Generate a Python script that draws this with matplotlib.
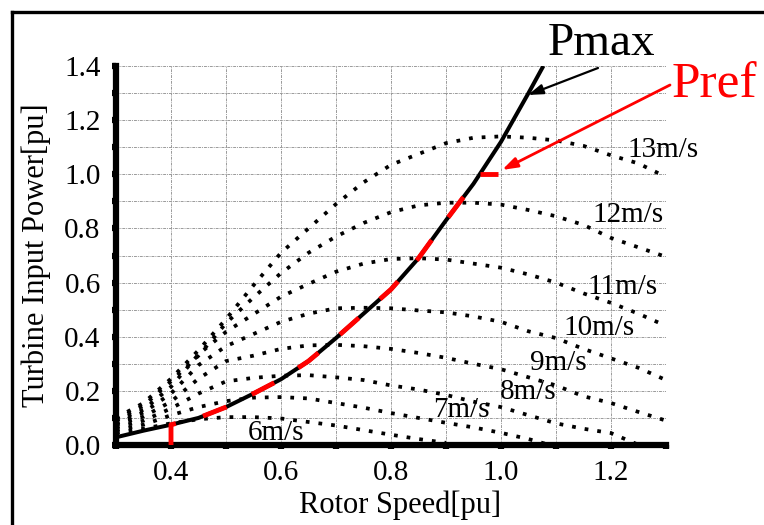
import matplotlib
matplotlib.use("Agg")
import matplotlib.pyplot as plt
from matplotlib.lines import Line2D

plt.rcParams['font.family'] = ['Liberation Serif', 'DejaVu Serif']

# rotor speed grid (pu) used for the wind-speed curves
speed = [0.30, 0.35, 0.40, 0.45, 0.50, 0.55, 0.60, 0.65, 0.70, 0.75, 0.80,
         0.85, 0.90, 0.95, 1.00, 1.05, 1.10, 1.15, 1.20, 1.25, 1.30]

p13 = [0.10, 0.155, 0.245, 0.35, 0.465, 0.59, 0.71, 0.80, 0.89, 0.97, 1.035,
       1.075, 1.115, 1.135, 1.14, 1.135, 1.125, 1.105, 1.07, 1.04, 0.99]
p12 = [0.095, 0.145, 0.235, 0.33, 0.45, 0.545, 0.635, 0.71, 0.77, 0.82, 0.86,
       0.885, 0.895, 0.895, 0.888, 0.868, 0.845, 0.813, 0.765, 0.73, 0.695]
p11 = [0.09, 0.13, 0.215, 0.335, 0.418, 0.483, 0.548, 0.595, 0.64, 0.67, 0.687,
       0.69, 0.685, 0.67, 0.655, 0.63, 0.60, 0.56, 0.525, 0.485, 0.44]
p10 = [0.08, 0.12, 0.19, 0.295, 0.365, 0.41, 0.455, 0.485, 0.505, 0.507, 0.505,
       0.497, 0.49, 0.475, 0.455, 0.42, 0.395, 0.355, 0.32, 0.285, 0.24]
p9 = [0.075, 0.105, 0.16, 0.245, 0.31, 0.33, 0.355, 0.368, 0.37, 0.365, 0.355,
      0.34, 0.322, 0.30, 0.28, 0.25, 0.22, 0.18, 0.155, 0.122, 0.09]

speed8 = [0.30, 0.35, 0.40, 0.45, 0.50, 0.55, 0.60, 0.65, 0.70, 0.75, 0.80,
          0.85, 0.90, 0.95, 1.00, 1.05, 1.10, 1.15, 1.20, 1.245]
p8 = [0.065, 0.09, 0.135, 0.19, 0.235, 0.248, 0.256, 0.258, 0.25, 0.24, 0.22,
      0.205, 0.185, 0.16, 0.14, 0.11, 0.08, 0.06, 0.044, 0.005]

speed7 = [0.30, 0.35, 0.40, 0.45, 0.50, 0.55, 0.60, 0.65, 0.70, 0.75, 0.80,
          0.85, 0.90, 0.95, 1.00, 1.05, 1.08]
p7 = [0.055, 0.075, 0.11, 0.14, 0.162, 0.175, 0.177, 0.172, 0.155, 0.138, 0.118,
      0.10, 0.082, 0.065, 0.045, 0.022, 0.005]

speed6 = [0.30, 0.35, 0.40, 0.45, 0.50, 0.55, 0.60, 0.65, 0.70, 0.75, 0.80,
          0.85, 0.90]
p6 = [0.045, 0.06, 0.08, 0.095, 0.103, 0.103, 0.098, 0.085, 0.072, 0.055, 0.038,
      0.022, 0.008]

wind_curves = [(speed, p13), (speed, p12), (speed, p11), (speed, p10),
               (speed, p9), (speed8, p8), (speed7, p7), (speed6, p6)]

wind_labels = ['13m/s', '12m/s', '11m/s', '10m/s', '9m/s', '8m/s', '7m/s', '6m/s']
label_x = [1.23, 1.167, 1.158, 1.113, 1.053, 0.998, 0.876, 0.54]
label_y = [1.09, 0.85, 0.584, 0.432, 0.303, 0.196, 0.129, 0.044]

# maximum power curve
pmax_x = [0.295, 0.35, 0.40, 0.45, 0.50, 0.55, 0.60, 0.65, 0.70, 0.75, 0.80,
          0.85, 0.90, 0.95, 1.00, 1.05, 1.077]
pmax_y = [0.026, 0.053, 0.075, 0.10, 0.14, 0.19, 0.243, 0.31, 0.395, 0.485, 0.575,
          0.69, 0.83, 0.965, 1.12, 1.30, 1.40]

# power reference
pref_x = [0.40, 0.40, 0.45, 0.50, 0.55, 0.60, 0.65, 0.70, 0.75, 0.80, 0.85, 0.90,
          0.95, 0.962]
pref_y = [0.0, 0.075, 0.10, 0.14, 0.19, 0.243, 0.31, 0.395, 0.485, 0.575, 0.69,
          0.83, 0.965, 1.0]
pref_end_x = [0.962, 0.995]
pref_end_y = [1.0, 1.0]

fig = plt.figure(figsize=(7.64, 5.25), dpi=100)
ax = fig.add_axes([116 / 764, 80 / 525, 550 / 764, 379 / 525])

for xs, ys in wind_curves:
    ax.plot(xs, ys, color='black', lw=2.7, linestyle=(0, (1.0, 2.4)),
            dash_capstyle='butt', zorder=2)

ax.plot(pmax_x, pmax_y, color='black', lw=2.9, zorder=3, solid_capstyle='butt')
ax.plot(pref_x, pref_y, color='red', lw=3.5, linestyle=(0, (5.2, 5.8)),
        dash_capstyle='butt', zorder=4)
ax.plot(pref_end_x, pref_end_y, color='red', lw=3.5, zorder=4,
        solid_capstyle='butt')

for lab, lx, ly in zip(wind_labels, label_x, label_y):
    ax.text(lx, ly, lab, fontsize=21, ha='left', va='center', zorder=5)

ax.set_xlim(0.3, 1.3)
ax.set_ylim(0.0, 1.4)
ax.set_xticks([0.4, 0.6, 0.8, 1.0, 1.2])
ax.set_xticklabels(['0.4', '0.6', '0.8', '1.0', '1.2'])
ax.set_yticks([0.0, 0.2, 0.4, 0.6, 0.8, 1.0, 1.2, 1.4])
ax.set_yticklabels(['0.0', '0.2', '0.4', '0.6', '0.8', '1.0', '1.2', '1.4'])
ax.set_xticks([0.3, 0.5, 0.7, 0.9, 1.1, 1.3], minor=True)
ax.set_yticks([0.1, 0.3, 0.5, 0.7, 0.9, 1.1, 1.3], minor=True)
ax.tick_params(which='both', direction='out', length=3, width=4.5, color='black',
               labelsize=21, pad=8)
ax.grid(which='both', color='#9a9a9a', lw=0.7, linestyle=(0, (3, 1, 1, 1)))
ax.set_axisbelow(True)

for side in ['top', 'right']:
    ax.spines[side].set_visible(False)
for side in ['left', 'bottom']:
    ax.spines[side].set_linewidth(4.5)

fig.text(400 / 764, 1 - 505 / 525, 'Rotor Speed[pu]', fontsize=22,
         ha='center', va='center')
fig.text(36 / 764, 1 - 255 / 525, 'Turbine Input Power[pu]', fontsize=22,
         ha='center', va='center', rotation=90)

# Pmax / Pref callouts
fig.text(548 / 764, 1 - 55 / 525, 'Pmax', fontsize=34, color='black',
         ha='left', va='baseline')
fig.text(672 / 764, 1 - 97 / 525, 'Pref', fontsize=37, color='red',
         ha='left', va='baseline')
ax.annotate('', xy=(1.049, 1.293), xycoords='data',
            xytext=(598, 525 - 68), textcoords='figure pixels',
            arrowprops=dict(arrowstyle='-|>,head_length=0.9,head_width=0.3',
                            color='black', lw=1.6, shrinkA=0, shrinkB=0),
            annotation_clip=False)
ax.annotate('', xy=(1.002, 1.016), xycoords='data',
            xytext=(670, 525 - 85), textcoords='figure pixels',
            arrowprops=dict(arrowstyle='-|>,head_length=0.9,head_width=0.3',
                            color='red', lw=2.0, shrinkA=0, shrinkB=0),
            annotation_clip=False)

# frame lines around the figure (left and top edges)
fig.add_artist(Line2D([12 / 764, 12 / 764], [0, 1 - 12 / 525],
                      transform=fig.transFigure, color='black', lw=2.4))
fig.add_artist(Line2D([12 / 764, 1], [1 - 12 / 525, 1 - 12 / 525],
                      transform=fig.transFigure, color='black', lw=2.4))

fig.savefig('out.png', dpi=100)
